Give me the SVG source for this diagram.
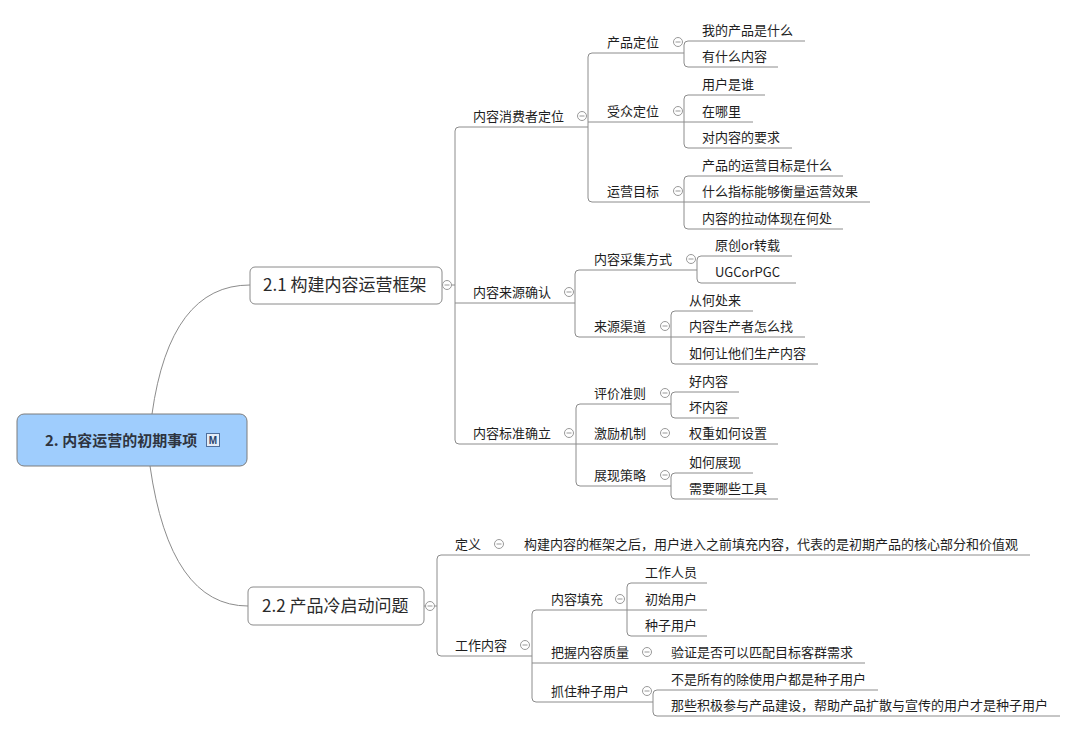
<svg xmlns="http://www.w3.org/2000/svg" xmlns:xlink="http://www.w3.org/1999/xlink" width="1076" height="733" viewBox="0 0 1076 733">
<style>
.t{font-family:"Noto Sans CJK SC","Noto Sans",sans-serif;font-size:13px;fill:#1e1e1e}
.big{font-family:"Noto Sans CJK SC","Noto Sans",sans-serif;font-size:17px;fill:#2a2a2a}
.root{font-family:"Noto Sans CJK SC","Noto Sans",sans-serif;font-size:15px;font-weight:bold;fill:#2e3440}
.box{fill:#fff;stroke:#8a8a8a;stroke-width:1}
.conn path{fill:none;stroke:#8c8c8c;stroke-width:1}
.tg circle{fill:#fff;stroke:#999;stroke-width:1}
.tg line{stroke:#999;stroke-width:1}
</style>
<defs>
<g id="tog" class="tg"><circle cx="0" cy="0" r="4.5"/><line x1="-2.5" y1="0" x2="2.5" y2="0"/></g>
</defs>
<rect width="1076" height="733" fill="#fff"/>
<g id="connectors" class="conn">
<path d="M152,414 Q170,285 250,285"/>
<path d="M150,466 Q170,606 248,606"/>
<path d="M442,285 H455"/>
<path d="M459,127 Q455,127 455,131 V440 Q455,444 459,444"/>
<path d="M459,127 H588"/>
<path d="M455,303 H575"/>
<path d="M459,444 H778"/>
<path d="M592,53 Q588,53 588,57 V198 Q588,202 592,202"/>
<path d="M592,53 H684"/>
<path d="M588,122 H753"/>
<path d="M592,202 H870"/>
<path d="M688,41 Q684,41 684,45 V63 Q684,67 688,67"/>
<path d="M688,41 H805"/>
<path d="M688,67 H778"/>
<path d="M688,95 Q684,95 684,99 V144 Q684,148 688,148"/>
<path d="M688,95 H765"/>
<path d="M688,148 H792"/>
<path d="M688,176 Q684,176 684,180 V225 Q684,229 688,229"/>
<path d="M688,176 H843"/>
<path d="M688,229 H843"/>
<path d="M579,270 Q575,270 575,274 V333 Q575,337 579,337"/>
<path d="M579,270 H697"/>
<path d="M579,337 H805"/>
<path d="M701,256 Q697,256 697,260 V279 Q697,283 701,283"/>
<path d="M701,256 H792"/>
<path d="M701,283 H796"/>
<path d="M675,311 Q671,311 671,315 V360 Q671,364 675,364"/>
<path d="M675,311 H753"/>
<path d="M675,364 H818"/>
<path d="M580,404 Q576,404 576,408 V482 Q576,486 580,486"/>
<path d="M580,404 H671"/>
<path d="M580,486 H671"/>
<path d="M675,392 Q671,392 671,396 V414 Q671,418 675,418"/>
<path d="M675,392 H739"/>
<path d="M675,418 H739"/>
<path d="M675,473 Q671,473 671,477 V495 Q671,499 675,499"/>
<path d="M675,473 H753"/>
<path d="M675,499 H778"/>
<path d="M424,606 H437"/>
<path d="M441,555 Q437,555 437,559 V652 Q437,656 441,656"/>
<path d="M441,555 H1030"/>
<path d="M441,656 H532"/>
<path d="M536,610 Q532,610 532,614 V698 Q532,702 536,702"/>
<path d="M536,610 H707"/>
<path d="M532,663 H865"/>
<path d="M536,702 H653"/>
<path d="M631,583 Q627,583 627,587 V632 Q627,636 631,636"/>
<path d="M631,583 H707"/>
<path d="M631,636 H707"/>
<path d="M657,690 Q653,690 653,694 V712 Q653,716 657,716"/>
<path d="M657,690 H878"/>
<path d="M657,716 H1060"/>
</g>
<g id="root">
<rect x="17" y="414" width="230" height="52" rx="7" fill="#9fcdfd" stroke="#7d7d7d"/>
<text class="root" x="45" y="446">2. 内容运营的初期事项</text>
<rect x="206.500" y="433.500" width="13" height="13" fill="#e3ecf7" stroke="#4f6f9c" stroke-width="1"/>
<text x="213" y="444" text-anchor="middle" font-family="Liberation Sans,sans-serif" font-size="10" font-weight="bold" fill="#27446e">M</text>
</g>
<g id="n21"><rect class="box" x="250" y="267" width="192" height="37" rx="5"/><text class="big" x="263" y="291">2.1 构建内容运营框架</text><use href="#tog" x="447" y="285"/></g>
<g id="n22"><rect class="box" x="248" y="587" width="176" height="38" rx="5"/><text class="big" x="262" y="612">2.2 产品冷启动问题</text><use href="#tog" x="430" y="606"/></g>
<g id="n_xfz"><text class="t" x="473" y="121">内容消费者定位</text><use href="#tog" x="582" y="116"/></g>
<g id="n_cpdw"><text class="t" x="607" y="47">产品定位</text><use href="#tog" x="678" y="42"/></g>
<g id="n_l1"><text class="t" x="702" y="35">我的产品是什么</text></g>
<g id="n_l2"><text class="t" x="702" y="61">有什么内容</text></g>
<g id="n_szdw"><text class="t" x="607" y="116">受众定位</text><use href="#tog" x="678" y="111"/></g>
<g id="n_l3"><text class="t" x="702" y="89">用户是谁</text></g>
<g id="n_l4"><text class="t" x="702" y="116">在哪里</text></g>
<g id="n_l5"><text class="t" x="702" y="142">对内容的要求</text></g>
<g id="n_yymb"><text class="t" x="607" y="196">运营目标</text><use href="#tog" x="678" y="191"/></g>
<g id="n_l6"><text class="t" x="702" y="170">产品的运营目标是什么</text></g>
<g id="n_l7"><text class="t" x="702" y="196">什么指标能够衡量运营效果</text></g>
<g id="n_l8"><text class="t" x="702" y="223">内容的拉动体现在何处</text></g>
<g id="n_lyqr"><text class="t" x="473" y="297">内容来源确认</text><use href="#tog" x="569" y="292"/></g>
<g id="n_cjfs"><text class="t" x="594" y="264">内容采集方式</text><use href="#tog" x="691" y="259"/></g>
<g id="n_l9"><text class="t" x="715" y="250">原创or转载</text></g>
<g id="n_l10"><text class="t" x="715" y="277">UGCorPGC</text></g>
<g id="n_lyqd"><text class="t" x="594" y="331">来源渠道</text><use href="#tog" x="665" y="326"/></g>
<g id="n_l11"><text class="t" x="689" y="305">从何处来</text></g>
<g id="n_l12"><text class="t" x="689" y="331">内容生产者怎么找</text></g>
<g id="n_l13"><text class="t" x="689" y="358">如何让他们生产内容</text></g>
<g id="n_bzql"><text class="t" x="473" y="438">内容标准确立</text><use href="#tog" x="569" y="433"/></g>
<g id="n_pjzz"><text class="t" x="594" y="398">评价准则</text><use href="#tog" x="665" y="393"/></g>
<g id="n_l14"><text class="t" x="689" y="386">好内容</text></g>
<g id="n_l15"><text class="t" x="689" y="412">坏内容</text></g>
<g id="n_jljz"><text class="t" x="594" y="438">激励机制</text><use href="#tog" x="665" y="433"/></g>
<g id="n_l16"><text class="t" x="689" y="438">权重如何设置</text></g>
<g id="n_zxcl"><text class="t" x="594" y="480">展现策略</text><use href="#tog" x="665" y="475"/></g>
<g id="n_l17"><text class="t" x="689" y="467">如何展现</text></g>
<g id="n_l18"><text class="t" x="689" y="493">需要哪些工具</text></g>
<g id="n_dy"><text class="t" x="455" y="549">定义</text><use href="#tog" x="499" y="544"/></g>
<g id="n_l19"><text class="t" x="524" y="549">构建内容的框架之后，用户进入之前填充内容，代表的是初期产品的核心部分和价值观</text></g>
<g id="n_gznr"><text class="t" x="455" y="650">工作内容</text><use href="#tog" x="525" y="645"/></g>
<g id="n_nrtc"><text class="t" x="551" y="604">内容填充</text><use href="#tog" x="620" y="599"/></g>
<g id="n_l20"><text class="t" x="645" y="577">工作人员</text></g>
<g id="n_l21"><text class="t" x="645" y="604">初始用户</text></g>
<g id="n_l22"><text class="t" x="645" y="630">种子用户</text></g>
<g id="n_bwzl"><text class="t" x="551" y="657">把握内容质量</text><use href="#tog" x="647" y="652"/></g>
<g id="n_l23"><text class="t" x="671" y="657">验证是否可以匹配目标客群需求</text></g>
<g id="n_zzzz"><text class="t" x="551" y="696">抓住种子用户</text><use href="#tog" x="647" y="691"/></g>
<g id="n_l24"><text class="t" x="671" y="684">不是所有的除使用户都是种子用户</text></g>
<g id="n_l25"><text class="t" x="671" y="710">那些积极参与产品建设，帮助产品扩散与宣传的用户才是种子用户</text></g>
</svg>
